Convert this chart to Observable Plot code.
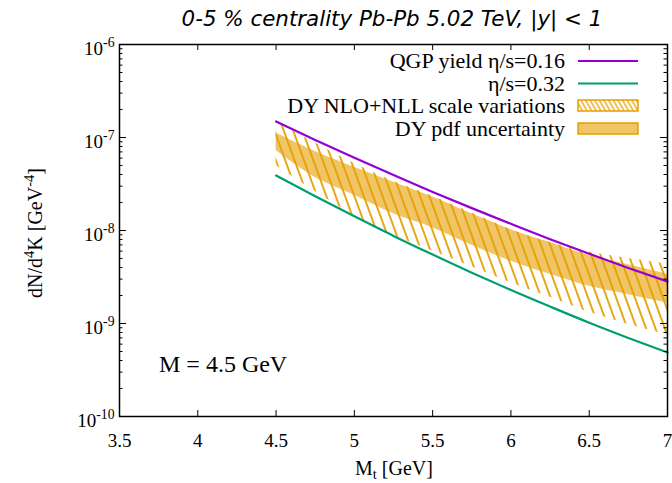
<!DOCTYPE html>
<html><head><meta charset="utf-8">
<script src="https://cdn.jsdelivr.net/npm/d3@7"></script>
<script src="https://cdn.jsdelivr.net/npm/@observablehq/plot@0.6"></script>
<style>
html,body{margin:0;padding:0;background:#fff;}
#chart{width:672px;height:483px;position:relative;}
</style></head><body><div id="chart"></div>
<script>
// ---- data ----
const chartTitle = "0-5 % centrality Pb-Pb 5.02 TeV, |y| < 1";
const mt = [4.5, 4.75, 5, 5.25, 5.5, 5.75, 6, 6.25, 6.5, 6.75, 7];
const qgpEta016 = [1.49e-7, 9.42e-8, 6.05e-8, 3.94e-8, 2.60e-8, 1.74e-8, 1.18e-8, 8.07e-9, 5.62e-9, 3.96e-9, 2.83e-9];
const qgpEta032 = [3.90e-8, 2.33e-8, 1.42e-8, 8.75e-9, 5.51e-9, 3.52e-9, 2.29e-9, 1.52e-9, 1.02e-9, 7.00e-10, 4.88e-10];
const dyScaleHi = [1.49e-7, 8.71e-8, 5.25e-8, 3.39e-8, 2.34e-8, 1.55e-8, 1.02e-8, 7.41e-9, 5.89e-9, 5.01e-9, 4.37e-9];
const dyScaleLo = [5.01e-8, 2.63e-8, 1.45e-8, 8.91e-9, 6.03e-9, 4.07e-9, 2.75e-9, 1.91e-9, 1.32e-9, 9.77e-10, 7.59e-10];
const dyPdfHi = [1.12e-7, 7.08e-8, 4.79e-8, 3.31e-8, 2.29e-8, 1.51e-8, 1.02e-8, 7.41e-9, 5.37e-9, 4.27e-9, 3.39e-9];
const dyPdfLo = [7.24e-8, 3.72e-8, 2.40e-8, 1.51e-8, 1.07e-8, 6.92e-9, 4.68e-9, 3.39e-9, 2.51e-9, 2.04e-9, 1.66e-9];
const xTicks = [3.5, 4, 4.5, 5, 5.5, 6, 6.5, 7];
const yTicks = [1e-10, 1e-9, 1e-8, 1e-7, 1e-6];
const yTickLabels = ["10^{-10}", "10^{-9}", "10^{-8}", "10^{-7}", "10^{-6}"];
const legendLabels = ["QGP yield η/s=0.16", "η/s=0.32", "DY NLO+NLL scale variations", "DY pdf uncertainty"];
const massLabel = "M = 4.5 GeV";
const xLabel = "M_{t} [GeV]";
const yLabel = "dN/d^{4}K [GeV^{-4}]";

const colPurple = "#9400d3", colGreen = "#009e73", colOrange = "#e69f00";

const rows = mt.map((m, i) => ({
  m, q016: qgpEta016[i], q032: qgpEta032[i],
  sHi: dyScaleHi[i], sLo: dyScaleLo[i], pHi: dyPdfHi[i], pLo: dyPdfLo[i]
}));

const W = 672, H = 483, mL = 119, mR = 5, mT = 44, mB = 67;
const fw = W - mL - mR, fh = H - mT - mB;
const yMinor = d3.range(-10, -6).flatMap(e => d3.range(2, 10).map(k => k * Math.pow(10, e)));

const defsMark = () => {
  const defs = d3.create("svg:defs");
  const p = defs.append("pattern").attr("id", "dyHatch").attr("patternUnits", "userSpaceOnUse")
    .attr("width", 8.8).attr("height", 20).attr("patternTransform", "rotate(-20)");
  p.append("line").attr("x1", 2).attr("y1", -2).attr("x2", 2).attr("y2", 22)
    .attr("stroke", colOrange).attr("stroke-width", 1.8);
  const q = defs.append("pattern").attr("id", "dyHatchKey").attr("patternUnits", "userSpaceOnUse")
    .attr("width", 4).attr("height", 20).attr("patternTransform", "rotate(-30)");
  q.append("line").attr("x1", 1).attr("y1", -2).attr("x2", 1).attr("y2", 22)
    .attr("stroke", colOrange).attr("stroke-width", 1.3);
  return defs.node();
};

const chart = Plot.plot({
  width: W, height: H,
  marginLeft: mL, marginRight: mR, marginTop: mT, marginBottom: mB,
  style: {fontFamily: "'Liberation Serif', 'DejaVu Serif', serif", fontSize: "19px", background: "white", color: "black"},
  x: {domain: [3.5, 7]},
  y: {type: "log", domain: [1e-10, 1e-6]},
  marks: [
    defsMark,
    Plot.areaY(rows, {x: "m", y1: "pLo", y2: "pHi", fill: colOrange, fillOpacity: 0.6, curve: "monotone-x"}),
    Plot.areaY(rows, {x: "m", y1: "sLo", y2: "sHi", fill: "url(#dyHatch)", curve: "monotone-x"}),
    Plot.lineY(rows, {x: "m", y: "q016", stroke: colPurple, strokeWidth: 2.2, curve: "monotone-x"}),
    Plot.lineY(rows, {x: "m", y: "q032", stroke: colGreen, strokeWidth: 2.2, curve: "monotone-x"}),
    Plot.tickX(xTicks, {x: d => d, stroke: "black", strokeWidth: 1, insetTop: fh - 6}),
    Plot.tickX(xTicks, {x: d => d, stroke: "black", strokeWidth: 1, insetBottom: fh - 6}),
    Plot.tickY(yTicks, {y: d => d, stroke: "black", strokeWidth: 1, insetRight: fw - 7}),
    Plot.tickY(yTicks, {y: d => d, stroke: "black", strokeWidth: 1, insetLeft: fw - 7}),
    Plot.tickY(yMinor, {y: d => d, stroke: "black", strokeWidth: 1, insetRight: fw - 3.5}),
    Plot.tickY(yMinor, {y: d => d, stroke: "black", strokeWidth: 1, insetLeft: fw - 3.5}),
    Plot.axisX({ticks: xTicks, tickSize: 0, tickPadding: 17, tickFormat: d => String(d), fontSize: 19, label: null}),
    Plot.axisY({ticks: yTicks, tickSize: 0, tickPadding: 5, dy: 4, fontSize: 19, label: null,
      tickFormat: d => yTickLabels[yTicks.findIndex(t => Math.abs(Math.log10(t) - Math.log10(d)) < 1e-6)]}),
    Plot.frame({stroke: "black", strokeWidth: 1.5})
  ]
});
document.getElementById("chart").appendChild(chart);

const svg = d3.select(chart);
// annotations
svg.append("text").attr("x", 392).attr("y", 26).attr("text-anchor", "middle")
  .style("font-family", "'DejaVu Sans', sans-serif").style("font-style", "italic").style("font-size", "21.4px")
  .text(chartTitle);
svg.append("text").attr("x", 394).attr("y", 475).attr("text-anchor", "middle").style("font-size", "20px").text(xLabel);
svg.append("text").attr("transform", "translate(42,233) rotate(-90)").attr("text-anchor", "middle")
  .style("font-size", "20px").text(yLabel);
svg.append("text").attr("x", 159).attr("y", 372).attr("text-anchor", "start").style("font-size", "24px").text(massLabel);

// legend
const lg = svg.append("g").style("font-size", "22px");
const baselines = [68, 90.5, 113, 135.5];
legendLabels.forEach((t, i) => lg.append("text").attr("x", 565).attr("y", baselines[i]).attr("text-anchor", "end").text(t));
lg.append("line").attr("x1", 578).attr("x2", 638).attr("y1", 61).attr("y2", 61).attr("stroke", colPurple).attr("stroke-width", 2.2);
lg.append("line").attr("x1", 578).attr("x2", 638).attr("y1", 83.5).attr("y2", 83.5).attr("stroke", colGreen).attr("stroke-width", 2.2);
lg.append("rect").attr("x", 578).attr("y", 100).attr("width", 60).attr("height", 11)
  .attr("fill", "url(#dyHatchKey)").attr("stroke", colOrange).attr("stroke-width", 1.5);
lg.append("rect").attr("x", 578).attr("y", 123).attr("width", 60).attr("height", 11)
  .attr("fill", colOrange).attr("fill-opacity", 0.6).attr("stroke", colOrange).attr("stroke-width", 1.5);

// turn ^{..} and _{..} into raised / lowered tspans
const NS = "http://www.w3.org/2000/svg";
chart.querySelectorAll("text").forEach(el => {
  const s = el.textContent;
  if (!/[\^_]\{/.test(s)) return;
  const fs = parseFloat(getComputedStyle(el).fontSize) || 19;
  el.textContent = "";
  let cur = 0, last = 0, m;
  const add = (txt, target, size) => {
    const t = document.createElementNS(NS, "tspan");
    const dy = target - cur;
    if (dy) t.setAttribute("dy", dy);
    if (size) t.setAttribute("font-size", size);
    t.textContent = txt; el.appendChild(t); cur = target;
  };
  const re = /([\^_])\{([^}]*)\}/g;
  while ((m = re.exec(s))) {
    if (m.index > last) add(s.slice(last, m.index), 0);
    add(m[2], m[1] === "^" ? -0.42 * fs : 0.2 * fs, 0.72 * fs);
    last = re.lastIndex;
  }
  if (last < s.length) add(s.slice(last), 0);
});
</script></body></html>
